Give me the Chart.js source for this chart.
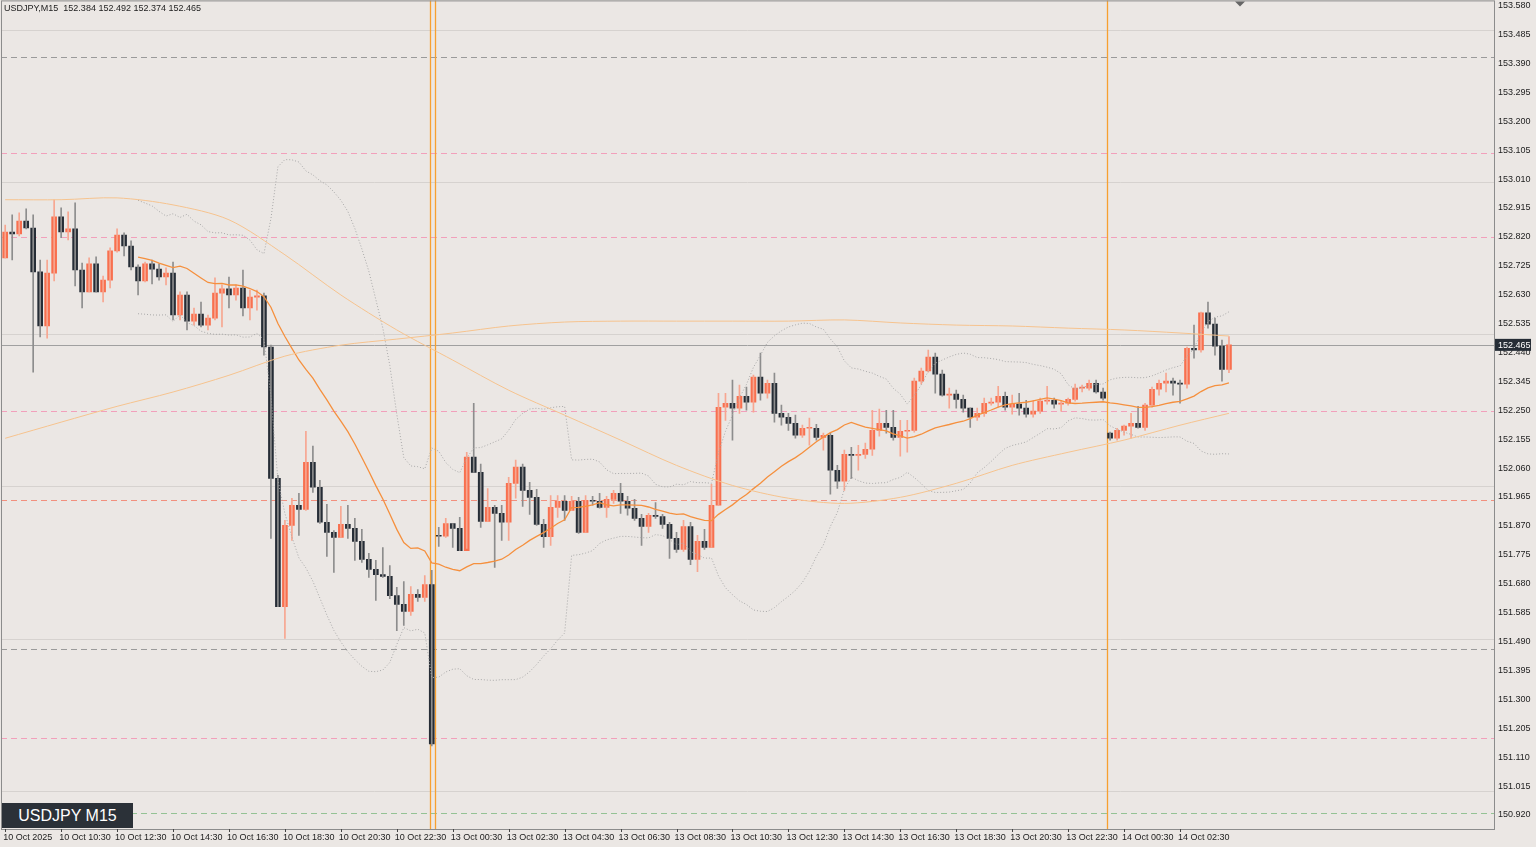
<!DOCTYPE html>
<html>
<head>
<meta charset="utf-8">
<script src="https://cdn.jsdelivr.net/npm/chart.js@4.4.1/dist/chart.umd.min.js"></script>
<style>
  html, body { margin: 0; padding: 0; background: #ebe7e4; overflow: hidden; }
  #wrap { position: relative; width: 1536px; height: 847px; overflow: hidden; }
  #c { position: absolute; left: 0; top: -9px; }
  #badge { position: absolute; left: 2px; top: 803px; width: 131px; height: 25px; background: #2b3138;
           color: #fff; font: 16px "Liberation Sans", Arial, sans-serif; line-height: 25px; text-align: center; }
  #head { position: absolute; left: 4px; top: 3px; font: 9px "Liberation Sans", Arial, sans-serif; color: #222; }
</style>
</head>
<body>
<div id="wrap">
  <canvas id="c" width="1536" height="856"></canvas>
  <div id="head">USDJPY,M15&nbsp; 152.384 152.492 152.374 152.465</div>
  <div id="badge">USDJPY M15</div>
</div>
<script>
// 15 minute bars, 10 Oct 08:30 .. 14 Oct 04:15
const closes = [
  152.836,152.830,152.872,152.849,152.705,152.527,152.701,152.886,152.836,152.846,
  152.711,152.639,152.731,152.639,152.678,152.774,152.826,152.790,152.721,152.675,
  152.731,152.714,152.688,152.701,152.563,152.629,152.543,152.566,152.530,152.553,
  152.635,152.649,152.629,152.652,152.586,152.622,152.626,152.458,152.026,151.605,
  151.872,151.938,151.924,152.079,151.997,151.882,151.849,151.832,151.875,151.862,
  151.819,151.760,151.727,151.710,151.704,151.641,151.612,151.589,151.645,151.635,
  151.677,151.154,151.836,151.878,151.862,151.789,152.096,152.046,151.885,151.931,
  151.911,151.882,152.010,152.063,151.987,151.964,151.875,151.835,151.931,151.951,
  151.921,151.951,151.849,151.954,151.951,151.931,151.957,151.977,151.951,151.928,
  151.895,151.868,151.905,151.901,151.875,151.829,151.793,151.868,151.760,151.819,
  151.799,151.938,152.260,152.273,152.257,152.296,152.277,152.359,152.306,152.339,
  152.240,152.227,152.207,152.168,152.191,152.191,152.161,152.168,152.053,152.017,
  152.105,152.102,152.105,152.122,152.184,152.207,152.194,152.161,152.181,152.184,
  152.346,152.379,152.425,152.369,152.300,152.303,152.286,152.257,152.227,152.240,
  152.273,152.277,152.296,152.260,152.270,152.257,152.237,152.247,152.280,152.283,
  152.270,152.273,152.286,152.323,152.323,152.339,152.310,152.290,152.158,152.184,
  152.198,152.207,152.194,152.267,152.319,152.339,152.346,152.339,152.336,152.454,
  152.448,152.570,152.533,152.461,152.384,152.465
];
const highs = [
  152.859,152.892,152.899,152.912,152.892,152.744,152.744,152.942,152.915,152.902,
  152.932,152.734,152.751,152.754,152.691,152.784,152.846,152.833,152.807,152.728,
  152.737,152.744,152.731,152.718,152.737,152.639,152.639,152.586,152.606,152.563,
  152.685,152.662,152.688,152.662,152.711,152.645,152.645,152.635,152.464,152.036,
  151.888,151.961,151.977,152.181,152.132,152.020,151.941,151.855,151.934,151.938,
  151.895,151.859,151.780,151.757,151.799,151.740,151.668,151.687,151.671,151.661,
  151.707,151.724,151.865,151.895,151.878,151.898,152.112,152.273,152.073,151.993,
  151.938,151.938,152.030,152.086,152.073,152.013,151.990,151.892,151.970,151.970,
  151.970,151.967,151.964,151.970,151.967,151.977,151.967,151.987,152.010,151.967,
  151.957,151.908,151.911,151.947,151.908,151.882,151.849,151.888,151.882,151.839,
  151.859,152.007,152.306,152.306,152.349,152.333,152.326,152.366,152.438,152.349,
  152.372,152.267,152.240,152.234,152.201,152.224,152.204,152.175,152.175,152.069,
  152.119,152.128,152.135,152.142,152.250,152.254,152.250,152.250,152.217,152.217,
  152.356,152.389,152.448,152.438,152.382,152.323,152.316,152.300,152.257,152.257,
  152.290,152.290,152.329,152.310,152.300,152.306,152.283,152.283,152.290,152.329,
  152.290,152.283,152.290,152.336,152.333,152.349,152.349,152.323,152.178,152.191,
  152.201,152.240,152.263,152.273,152.326,152.349,152.372,152.356,152.349,152.458,
  152.530,152.573,152.606,152.553,152.481,152.492
];
const lows = [
  152.751,152.744,152.823,152.846,152.375,152.491,152.487,152.675,152.817,152.810,
  152.659,152.586,152.639,152.639,152.606,152.652,152.770,152.757,152.711,152.629,
  152.672,152.665,152.678,152.662,152.547,152.547,152.514,152.530,152.524,152.514,
  152.547,152.524,152.586,152.612,152.560,152.547,152.579,152.431,151.829,151.605,
  151.500,151.822,151.839,151.921,151.980,151.878,151.770,151.717,151.832,151.829,
  151.757,151.750,151.701,151.625,151.701,151.631,151.526,151.543,151.576,151.622,
  151.622,151.147,151.803,151.832,151.799,151.789,151.796,152.046,151.865,151.885,
  151.734,151.822,151.822,151.961,151.934,151.908,151.872,151.799,151.806,151.898,
  151.888,151.921,151.845,151.849,151.938,151.928,151.898,151.944,151.911,151.905,
  151.888,151.806,151.849,151.895,151.862,151.763,151.783,151.786,151.743,151.720,
  151.793,151.799,151.938,152.217,152.152,152.240,152.250,152.244,152.283,152.290,
  152.211,152.201,152.184,152.158,152.161,152.135,152.152,152.119,151.974,151.993,
  151.987,152.026,152.053,152.092,152.102,152.165,152.175,152.152,152.099,152.112,
  152.178,152.336,152.375,152.306,152.296,152.257,152.257,152.244,152.194,152.217,
  152.230,152.267,152.260,152.250,152.237,152.234,152.227,152.227,152.240,152.270,
  152.257,152.247,152.267,152.280,152.310,152.316,152.306,152.283,152.152,152.152,
  152.168,152.158,152.191,152.184,152.260,152.300,152.310,152.300,152.273,152.323,
  152.421,152.441,152.520,152.431,152.346,152.374
];
// opens follow the previous close, except after the gaps below
const openGaps = { 0: 152.751, 62: 151.839, 158: 152.175 };

// slow moving averages, read every 8 bars (last point at bar 175)
const slowIdx = [0,8,16,24,32,40,48,56,64,72,80,88,96,104,112,120,128,136,144,152,160,168,175];
const slowA = [152.158,152.211,152.263,152.310,152.365,152.428,152.464,152.484,152.504,152.527,152.540,152.543,
               152.543,152.543,152.543,152.547,152.537,152.530,152.527,152.520,152.514,152.504,152.494];
const slowB = [152.942,152.942,152.948,152.925,152.876,152.761,152.629,152.514,152.415,152.316,152.234,152.152,
               152.069,152.003,151.961,151.944,151.964,152.010,152.069,152.112,152.152,152.201,152.240];

const xTickLabels = ["10 Oct 2025","10 Oct 10:30","10 Oct 12:30","10 Oct 14:30","10 Oct 16:30","10 Oct 18:30",
  "10 Oct 20:30","10 Oct 22:30","13 Oct 00:30","13 Oct 02:30","13 Oct 04:30","13 Oct 06:30","13 Oct 08:30",
  "13 Oct 10:30","13 Oct 12:30","13 Oct 14:30","13 Oct 16:30","13 Oct 18:30","13 Oct 20:30","13 Oct 22:30",
  "14 Oct 00:30","14 Oct 02:30"];
const yTicks = [153.580,153.485,153.390,153.295,153.200,153.105,153.010,152.915,152.820,152.725,152.630,152.535,
  152.440,152.345,152.250,152.155,152.060,151.965,151.870,151.775,151.680,151.585,151.490,151.395,151.300,
  151.205,151.110,151.015,150.920];

const roundLevels = [153.5, 153.0, 152.5, 152.0, 151.5, 151.0];
const pinkLevels = [153.096, 152.820, 152.247, 151.174];
const greyDashLevels = [153.412, 151.464];
const redLevel = 151.954, greenLevel = 150.927;
const daySeparators = [60.7, 61.4, 157.6];
const lastPrice = 152.465;

const BULL = "#f8704f", BEAR = "#262d36";

const opens = closes.map((c, i) => openGaps[i] !== undefined ? openGaps[i] : closes[i - 1]);
const bodies = closes.map((c, i) => ({ x: i, y: [opens[i], c] }));
const wicks = closes.map((c, i) => ({ x: i, y: [lows[i], highs[i]] }));
const up = closes.map((c, i) => c >= opens[i]);

function sma(n) {
  return closes.map((c, i) => {
    if (i < n - 1) return null;
    let s = 0; for (let k = i - n + 1; k <= i; k++) s += closes[k];
    return s / n;
  });
}
const ma20 = sma(20);
const bbUp = [], bbDn = [];
closes.forEach((c, i) => {
  if (ma20[i] === null) { bbUp.push({ x: i, y: null }); bbDn.push({ x: i, y: null }); return; }
  let v = 0; for (let k = i - 19; k <= i; k++) v += (closes[k] - ma20[i]) ** 2;
  const sd = Math.sqrt(v / 20);
  bbUp.push({ x: i, y: ma20[i] + 2 * sd }); bbDn.push({ x: i, y: ma20[i] - 2 * sd });
});

const overlay = {
  id: "overlay",
  beforeDatasetsDraw(chart) {
    const { ctx, chartArea: a, scales: { x, y } } = chart;
    const hline = (p, color, dash) => {
      const py = Math.round(y.getPixelForValue(p)) + 0.5;
      ctx.strokeStyle = color; ctx.setLineDash(dash);
      ctx.beginPath(); ctx.moveTo(a.left, py); ctx.lineTo(a.right, py); ctx.stroke();
    };
    ctx.save(); ctx.lineWidth = 1;
    roundLevels.forEach(p => hline(p, "#d6d2cf", []));
    pinkLevels.forEach(p => hline(p, "#f2a0bb", [6, 4]));
    greyDashLevels.forEach(p => hline(p, "#9a9a9a", [6, 4]));
    hline(redLevel, "#f2907e", [6, 4]);
    hline(greenLevel, "#94c294", [6, 4]);
    hline(lastPrice, "#a0a0a0", []);
    ctx.setLineDash([]); ctx.strokeStyle = "#f7a030"; ctx.lineWidth = 1.3;
    daySeparators.forEach(v => {
      const px = Math.round(x.getPixelForValue(v)) + 0.5;
      ctx.beginPath(); ctx.moveTo(px, a.top); ctx.lineTo(px, a.bottom); ctx.stroke();
    });
    ctx.restore();
  },
  afterDraw(chart) {
    const { ctx, chartArea: a, scales: { x, y } } = chart;
    ctx.save();
    ctx.strokeStyle = "#8c8c8c"; ctx.lineWidth = 1;
    ctx.strokeRect(a.left + 0.5, a.top + 0.5, a.right - a.left, a.bottom - a.top);
    ctx.font = "9px 'Liberation Sans', Arial, sans-serif"; ctx.fillStyle = "#222";
    ctx.textBaseline = "top"; ctx.textAlign = "left";
    xTickLabels.forEach((t, k) => ctx.fillText(t, x.getPixelForValue(k * 8) - 2, a.bottom + 4));
    ctx.strokeStyle = "#444";
    xTickLabels.forEach((t, k) => {
      const px = Math.round(x.getPixelForValue(k * 8)) + 0.5;
      ctx.beginPath(); ctx.moveTo(px, a.bottom); ctx.lineTo(px, a.bottom + 3); ctx.stroke();
    });
    const py = y.getPixelForValue(lastPrice);
    ctx.fillStyle = "#262d36"; ctx.fillRect(a.right + 1, py - 6, 36, 12);
    ctx.fillStyle = "#fff"; ctx.textBaseline = "middle";
    ctx.fillText(lastPrice.toFixed(3), a.right + 4, py + 0.5);
    ctx.fillStyle = "#666";
    ctx.beginPath(); ctx.moveTo(1235, a.top + 1); ctx.lineTo(1245, a.top + 1); ctx.lineTo(1240, a.top + 6); ctx.fill();
    ctx.restore();
  }
};

new Chart(document.getElementById("c"), {
  data: {
    datasets: [
      { type: "line", data: slowIdx.map((v, k) => ({ x: v, y: slowA[k] })), borderColor: "#f6c38e", borderWidth: 1, pointRadius: 0, tension: 0.3 },
      { type: "line", data: slowIdx.map((v, k) => ({ x: v, y: slowB[k] })), borderColor: "#f6c38e", borderWidth: 1, pointRadius: 0, tension: 0.3 },
      { type: "line", data: bbUp, borderColor: "#a8a8a8", borderWidth: 1, borderDash: [1, 2], pointRadius: 0 },
      { type: "line", data: bbDn, borderColor: "#a8a8a8", borderWidth: 1, borderDash: [1, 2], pointRadius: 0 },
      { type: "line", data: ma20.map((v, i) => ({ x: i, y: v })), borderColor: "#f5903e", borderWidth: 1.3, pointRadius: 0 },
      { type: "bar", data: wicks, grouped: false, barThickness: 1, minBarLength: 1,
        backgroundColor: up.map(u => u ? "#f7a690" : "#8d8d8d") },
      { type: "bar", data: bodies, grouped: false, barThickness: 5, minBarLength: 1,
        backgroundColor: up.map(u => u ? BULL : BEAR) }
    ]
  },
  options: {
    responsive: false, animation: false, devicePixelRatio: 1,
    layout: { padding: { left: 1, top: 0, right: 0, bottom: 0 } },
    plugins: { legend: { display: false }, tooltip: { enabled: false } },
    scales: {
      x: { type: "linear", min: -0.6, max: 212.9, offset: false,
           grid: { display: false, drawTicks: false }, border: { display: false },
           ticks: { display: false },
           afterFit: s => { s.height = 18; } },
      y: { position: "right", min: 150.874, max: 153.597,
           grid: { display: false, drawTicks: false }, border: { display: false },
           afterBuildTicks: s => { s.ticks = yTicks.map(v => ({ value: v })); },
           ticks: { color: "#222", font: { size: 9, family: "'Liberation Sans', Arial" }, padding: 4,
                    callback: v => Number(v).toFixed(3) },
           afterFit: s => { s.width = 42; } }
    }
  },
  plugins: [overlay]
});
</script>
</body>
</html>
